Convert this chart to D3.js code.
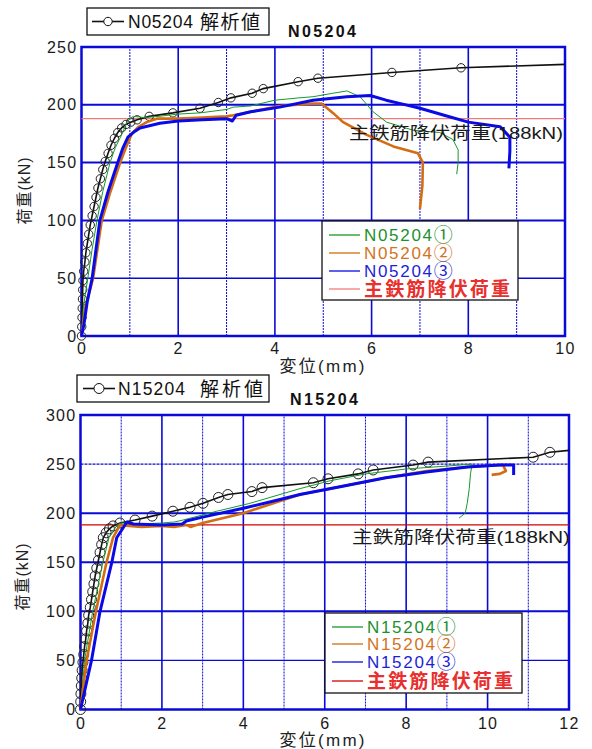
<!DOCTYPE html>
<html>
<head>
<meta charset="utf-8">
<script src="https://cdn.jsdelivr.net/npm/d3@7"></script>
<style>
body { margin: 0; background: #fff; }
</style>
</head>
<body>
<div id="chart"></div>
<script>
// ---- data: N05204 (upper chart) ----
var n05Title = "N05204";
var n05XTicks = [0, 2, 4, 6, 8, 10];
var n05YTicks = [0, 50, 100, 150, 200, 250];
// analysis curve, a circle on every point
var n05Analysis = [[0,0],[0.005,8],[0.01,16],[0.015,24],[0.02,32],[0.025,40],[0.03,48],[0.045,56],[0.07,64],[0.09,72],[0.12,80],[0.15,88],[0.18,96],[0.22,104],[0.26,112],[0.3,120],[0.34,128],[0.39,136],[0.44,144],[0.49,151],[0.55,158],[0.61,165],[0.68,171],[0.75,176],[0.83,180],[0.92,183],[1.02,185],[1.15,187],[1.4,190],[1.89,193],[2.45,197],[2.83,202],[3.09,206],[3.53,210],[3.76,214],[4.48,220],[4.89,223],[6.42,228],[7.85,232]];
var n05AnalysisEnd = [10, 235];
var n05Test1 = [[0,0],[0.04,25],[0.13,50],[0.22,75],[0.32,100],[0.44,125],[0.59,150],[0.7,163],[0.84,175],[0.93,184],[1.0,188],[1.07,190],[1.3,189],[1.6,190],[2.0,192],[2.45,193],[3.0,196],[3.14,198],[3.5,199],[4.0,204],[4.5,206],[4.79,207],[5.2,210],[5.49,212],[5.76,207],[6.03,194],[6.31,185],[6.86,178],[7.41,176],[7.68,170],[7.79,161],[7.79,150],[7.76,140]];
var n05Test2 = [[0,0],[0.08,25],[0.24,50],[0.33,75],[0.42,100],[0.6,125],[0.8,150],[0.92,163],[1.04,175],[1.18,181],[1.35,185],[1.56,188],[2.0,188],[2.5,189],[3.0,190],[3.14,191],[3.5,194],[4.1,199],[4.79,201],[4.97,201],[5.2,193],[5.41,185],[5.9,174],[6.45,164],[6.96,158],[7.06,150],[7.05,130],[7.0,110]];
var n05Test3 = [[0,0],[0.05,10],[0.12,30],[0.22,50],[0.3,75],[0.38,100],[0.55,125],[0.75,150],[0.86,163],[0.96,172],[1.1,177],[1.21,180],[1.62,184],[2.0,186],[2.5,187],[3.0,188],[3.12,186],[3.2,191],[3.5,194],[4.1,198],[4.79,204],[5.49,207],[5.97,208],[6.3,204],[6.6,201],[7.0,197],[7.5,191],[8.0,185],[8.66,181],[8.86,172],[8.86,160],[8.84,145]];
var n05Legend = ["N05204", "N05204", "N05204", "主鉄筋降伏荷重"];

// ---- data: N15204 (lower chart) ----
var n15Title = "N15204";
var n15XTicks = [0, 2, 4, 6, 8, 10, 12];
var n15YTicks = [0, 50, 100, 150, 200, 250, 300];
var n15Analysis = [[0,0],[0.005,8],[0.01,16],[0.02,24],[0.03,32],[0.04,40],[0.06,48],[0.08,56],[0.1,64],[0.13,72],[0.15,80],[0.18,88],[0.2,96],[0.24,104],[0.27,112],[0.3,120],[0.33,128],[0.36,136],[0.4,144],[0.44,152],[0.48,160],[0.52,168],[0.56,175],[0.63,180],[0.71,184],[0.8,187],[0.97,190],[1.34,193],[1.76,197],[2.27,202],[2.69,206],[3.01,210],[3.39,216],[3.62,219],[4.21,222],[4.46,226],[5.72,231],[6.08,235],[6.82,240],[7.19,244],[8.17,249],[8.54,252],[11.12,257],[11.53,262]];
var n15AnalysisEnd = [12, 264];
var n15Test1 = [[0,0],[0.1,50],[0.3,100],[0.55,150],[0.7,175],[0.9,188],[1.0,190],[1.5,189],[2.0,190],[2.3,191],[2.52,193],[3.35,202],[4.16,210],[5.39,225],[6.13,233],[7.0,240],[8.0,245],[9.0,248],[9.62,250],[9.58,240],[9.55,225],[9.5,210],[9.45,200],[9.3,195]];
var n15Test2 = [[0,0],[0.15,50],[0.38,100],[0.64,150],[0.8,175],[0.97,188],[1.2,187],[1.5,186],[2.0,187],[2.3,186],[2.6,188],[2.7,186],[3.0,190],[4.0,200],[5.39,219],[6.5,228],[7.5,236],[8.5,243],[9.5,247],[10.38,249],[10.45,243],[10.3,240],[10.1,239]];
var n15Test3 = [[0,0],[0.27,50],[0.48,100],[0.77,150],[0.89,175],[1.14,191],[1.3,189],[2.0,188],[2.5,189],[2.6,192],[3.0,196],[4.0,205],[4.9,214],[5.39,219],[6.5,228],[7.5,236],[8.5,242],[9.5,247],[10.3,249],[10.64,249],[10.64,239]];
var n15Legend = ["N15204", "N15204", "N15204", "主鉄筋降伏荷重"];

var specimenMarks = ["①", "②", "③", ""];
var yieldLoad = 188;
var yieldLabel = "主鉄筋降伏荷重(188kN)";
var xTitle = "変位(mm)";
var yTitle = "荷重(kN)";
var analysisSuffix = "解析値";

var FONT = "'Liberation Sans', Arial, 'Noto Sans CJK JP', sans-serif";
var CJK = "'Noto Sans CJK JP', sans-serif";
var GRID = "#0a0ad8";

var svg = d3.select("#chart")
	.append("svg")
	.attr("width", 592)
	.attr("height", 749)
	.style("font-family", FONT);

function drawChart(o) {
	var x = d3.scaleLinear().domain([0, o.xTicks[o.xTicks.length - 1]]).range([o.left, o.right]);
	var y = d3.scaleLinear().domain([0, o.yTicks[o.yTicks.length - 1]]).range([o.bottom, o.top]);
	var xMax = x.domain()[1], yMax = y.domain()[1];
	var g = svg.append("g");

	// vertical grid: even values solid, odd ones dotted
	g.selectAll(".vgrid")
		.data(d3.range(1, xMax))
		.enter()
		.append("line")
		.attr("x1", function(d) { return x(d); })
		.attr("x2", function(d) { return x(d); })
		.attr("y1", y(0))
		.attr("y2", y(yMax))
		.attr("stroke", GRID)
		.attr("stroke-width", function(d) { return d % 2 ? 1 : 1.6; })
		.attr("stroke-dasharray", function(d) { return d % 2 ? "2,1" : null; });

	// horizontal grid
	g.selectAll(".hgrid")
		.data(o.yTicks.slice(1, -1))
		.enter()
		.append("line")
		.attr("x1", x(0))
		.attr("x2", x(xMax))
		.attr("y1", function(d) { return y(d); })
		.attr("y2", function(d) { return y(d); })
		.attr("stroke", GRID)
		.attr("stroke-width", function(d) { return d % 100 === 0 || d === 150 ? 2 : 1.4; })
		.attr("stroke-dasharray", function(d) { return d === 250 ? "3,1" : null; });

	// frame
	g.append("rect")
		.attr("x", x(0))
		.attr("y", y(yMax))
		.attr("width", x(xMax) - x(0))
		.attr("height", y(0) - y(yMax))
		.attr("fill", "none")
		.attr("stroke", GRID)
		.attr("stroke-width", 2.5);

	// axes (labels only)
	var xa = g.append("g")
		.attr("transform", "translate(0," + y(0) + ")")
		.call(d3.axisBottom(x).tickValues(o.xTicks).tickSize(0).tickPadding(o.xPad));
	var ya = g.append("g")
		.attr("transform", "translate(" + x(0) + ",0)")
		.call(d3.axisLeft(y).tickValues(o.yTicks).tickSize(0).tickPadding(4));
	[xa, ya].forEach(function(a) {
		a.select(".domain").remove();
		a.attr("font-family", FONT).attr("font-size", 16);
		a.selectAll("text").attr("fill", "#1a1a1a").style("letter-spacing", "1.3px");
	});

	// yield load line
	g.append("line")
		.attr("x1", x(0))
		.attr("x2", x(xMax))
		.attr("y1", y(yieldLoad))
		.attr("y2", y(yieldLoad))
		.attr("stroke", o.redLine)
		.attr("stroke-width", 1.2);

	var line = d3.line()
		.x(function(d) { return x(d[0]); })
		.y(function(d) { return y(d[1]); });

	// analysis
	g.append("path")
		.attr("d", line(o.analysis.concat([o.analysisEnd])))
		.attr("fill", "none")
		.attr("stroke", "#111")
		.attr("stroke-width", 1.6);
	g.selectAll(".mark")
		.data(o.analysis)
		.enter()
		.append("circle")
		.attr("cx", function(d) { return x(d[0]); })
		.attr("cy", function(d) { return y(d[1]); })
		.attr("r", o.markR)
		.attr("fill", "none")
		.attr("stroke", "#222")
		.attr("stroke-width", 1);

	// test curves
	o.tests.forEach(function(t) {
		g.append("path")
			.attr("d", line(t.data))
			.attr("fill", "none")
			.attr("stroke", t.color)
			.attr("stroke-width", t.width)
			.attr("stroke-linejoin", "round");
	});

	// yield label
	g.append("text")
		.attr("x", o.yieldText[0])
		.attr("y", o.yieldText[1])
		.attr("font-size", 17)
		.attr("fill", "#1a1a1a")
		.attr("textLength", o.yieldText[2])
		.attr("lengthAdjust", "spacingAndGlyphs")
		.text(yieldLabel);

	// title
	g.append("text")
		.attr("x", o.titlePos[0])
		.attr("y", o.titlePos[1])
		.attr("font-size", 16)
		.attr("font-weight", "bold")
		.attr("fill", "#111")
		.attr("textLength", 68)
		.attr("lengthAdjust", "spacing")
		.text(o.title);

	// axis titles
	g.append("text")
		.attr("x", 322)
		.attr("y", o.xTitleY)
		.attr("text-anchor", "middle")
		.attr("font-size", 17)
		.attr("fill", "#222")
		.attr("textLength", 85)
		.attr("lengthAdjust", "spacing")
		.text(xTitle);
	g.append("text")
		.attr("transform", "translate(" + (o.yTitleX) + "," + o.yTitleY + ") rotate(-90)")
		.attr("text-anchor", "middle")
		.attr("font-size", 16)
		.attr("fill", "#222")
		.attr("textLength", 67)
		.attr("lengthAdjust", "spacing")
		.text(yTitle);

	// analysis legend (upper left)
	var al = o.aLegend;
	g.append("rect")
		.attr("x", al.x).attr("y", al.y).attr("width", al.w).attr("height", al.h)
		.attr("fill", "#fff").attr("stroke", "#111").attr("stroke-width", 1.3);
	var cy = al.y + al.h / 2;
	g.append("line")
		.attr("x1", al.lx[0]).attr("x2", al.lx[1]).attr("y1", cy).attr("y2", cy)
		.attr("stroke", "#111").attr("stroke-width", 1.6);
	g.append("circle")
		.attr("cx", (al.lx[0] + al.lx[1]) / 2).attr("cy", cy).attr("r", o.markR)
		.attr("fill", "#fff").attr("stroke", "#111");
	g.append("text")
		.attr("x", al.tx[0]).attr("y", cy + 6)
		.attr("font-size", 17.5).attr("fill", "#111")
		.attr("textLength", al.tx[1]).attr("lengthAdjust", "spacing")
		.text(o.title);
	g.append("text")
		.attr("x", al.tx[2]).attr("y", cy + 7)
		.attr("font-size", 19).attr("fill", "#111")
		.attr("font-family", CJK)
		.attr("textLength", al.tx[3]).attr("lengthAdjust", "spacing")
		.text(analysisSuffix);

	// test legend
	var tl = o.tLegend;
	g.append("rect")
		.attr("x", tl.x).attr("y", tl.y).attr("width", tl.w).attr("height", tl.h)
		.attr("fill", "#fff").attr("stroke", "#111").attr("stroke-width", 1.3);
	var items = g.selectAll(".item")
		.data(o.legend)
		.enter()
		.append("g")
		.attr("transform", function(d, i) { return "translate(0," + tl.rows[i] + ")"; });
	items.append("line")
		.attr("x1", tl.lx[0]).attr("x2", tl.lx[1])
		.attr("stroke", function(d, i) { return o.legendLine[i]; })
		.attr("stroke-width", 1.3);
	var txt = items.append("text")
		.attr("x", tl.tx)
		.attr("y", 6)
		.attr("fill", function(d, i) { return o.legendText[i]; });
	// specimen names + circled number
	txt.filter(function(d, i) { return i < 3; })
		.attr("font-size", 17)
		.each(function(d, i) {
			var t = d3.select(this);
			t.append("tspan").attr("textLength", tl.w1).attr("lengthAdjust", "spacing").text(d);
			t.append("tspan").attr("font-family", CJK).attr("font-size", 19).attr("dy", 1).text(specimenMarks[i]);
		});
	txt.filter(function(d, i) { return i === 3; })
		.attr("font-size", 19)
		.attr("y", 7)
		.attr("font-family", CJK)
		.attr("font-weight", "bold")
		.attr("textLength", tl.w2)
		.attr("lengthAdjust", "spacing")
		.text(function(d) { return d; });
}

drawChart({
	left: 81.5, right: 565, top: 47, bottom: 336,
	xTicks: n05XTicks, yTicks: n05YTicks, xPad: 7,
	title: n05Title, titlePos: [288, 37],
	analysis: n05Analysis, analysisEnd: n05AnalysisEnd, markR: 4.2,
	tests: [
		{ data: n05Test1, color: "#179a2a", width: 1 },
		{ data: n05Test2, color: "#d46c12", width: 2.6 },
		{ data: n05Test3, color: "#0a0ae6", width: 3 }
	],
	redLine: "#f07a7a",
	yieldText: [349, 139, 214],
	xTitleY: 372, yTitleX: 30, yTitleY: 191,
	aLegend: { x: 87, y: 8, w: 182, h: 27, lx: [92, 124], tx: [128, 65, 200, 60] },
	legend: n05Legend,
	legendLine: ["#179a2a", "#d46c12", "#0a0ae6", "#f07a7a"],
	legendText: ["#1e8f2e", "#d2731e", "#1e1ed6", "#e8302e"],
	tLegend: { x: 322, y: 221, w: 196, h: 79, rows: [235, 253, 271, 289], lx: [329, 360], tx: 364, w1: 68, w2: 146 }
});

drawChart({
	left: 80.5, right: 569, top: 415, bottom: 709.5,
	xTicks: n15XTicks, yTicks: n15YTicks, xPad: 8,
	title: n15Title, titlePos: [290, 405],
	analysis: n15Analysis, analysisEnd: n15AnalysisEnd, markR: 5,
	tests: [
		{ data: n15Test1, color: "#179a2a", width: 1 },
		{ data: n15Test2, color: "#d46c12", width: 2.6 },
		{ data: n15Test3, color: "#0a0ae6", width: 3 }
	],
	redLine: "#d40000",
	yieldText: [352, 543, 218],
	xTitleY: 746, yTitleX: 28, yTitleY: 577,
	aLegend: { x: 77, y: 375, w: 192, h: 27, lx: [83, 115], tx: [118, 67, 200, 63] },
	legend: n15Legend,
	legendLine: ["#179a2a", "#d46c12", "#0a0ae6", "#d40000"],
	legendText: ["#1e8f2e", "#d2731e", "#1e1ed6", "#e8302e"],
	tLegend: { x: 325, y: 613, w: 197, h: 80, rows: [627, 644, 662, 681], lx: [332, 363], tx: 367, w1: 68, w2: 146 }
});
</script>
</body>
</html>
